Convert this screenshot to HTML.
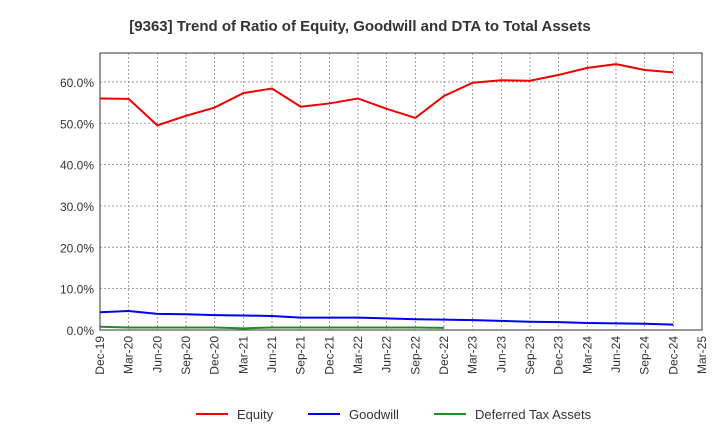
<!DOCTYPE html>
<html><head><meta charset="utf-8"><style>
body{margin:0;background:#fff;font-family:"Liberation Sans",sans-serif}
</style></head><body>
<svg id="chart" width="720" height="440" xmlns="http://www.w3.org/2000/svg" font-family="Liberation Sans, sans-serif">
<text x="360" y="31" text-anchor="middle" font-size="15" font-weight="bold" fill="#333">[9363]  Trend of Ratio of Equity, Goodwill and DTA to Total Assets</text>
<g id="grid"></g><g id="axes"></g><g id="series"></g>
<g font-size="13" fill="#333">
<line x1="196" y1="414" x2="228" y2="414" stroke="#e00" stroke-width="2"/><text x="237" y="419">Equity</text>
<line x1="308" y1="414" x2="340" y2="414" stroke="#00e" stroke-width="2"/><text x="349" y="419">Goodwill</text>
<line x1="434" y1="414" x2="466" y2="414" stroke="#228b22" stroke-width="2"/><text x="475" y="419">Deferred Tax Assets</text>
</g>
</svg>
<script>
const categories=["Dec-19","Mar-20","Jun-20","Sep-20","Dec-20","Mar-21","Jun-21","Sep-21","Dec-21","Mar-22","Jun-22","Sep-22","Dec-22","Mar-23","Jun-23","Sep-23","Dec-23","Mar-24","Jun-24","Sep-24","Dec-24","Mar-25"];
const equity=[56.0,55.9,49.5,51.8,53.8,57.3,58.4,54.0,54.8,56.0,53.5,51.3,56.6,59.8,60.4,60.3,61.7,63.4,64.3,62.9,62.3];
const goodwill=[4.3,4.6,3.9,3.8,3.6,3.5,3.4,3.0,3.0,3.0,2.8,2.6,2.5,2.4,2.2,2.0,1.9,1.7,1.6,1.5,1.3];
const dta=[0.8,0.6,0.6,0.6,0.6,0.4,0.6,0.6,0.6,0.6,0.6,0.6,0.5];
const yTicks=[0,10,20,30,40,50,60];
const L=100,R=702,T=53,B=330,YMAX=67;
const NS="http://www.w3.org/2000/svg";
const x=i=>L+i*(R-L)/(categories.length-1);
const y=v=>B-v*(B-T)/YMAX;
function mk(tag,attrs,parent){const e=document.createElementNS(NS,tag);for(const k in attrs)e.setAttribute(k,attrs[k]);document.getElementById(parent).appendChild(e);return e;}
yTicks.forEach(v=>{
 const g=mk("line",{x1:L,x2:R,y1:y(v),y2:y(v),stroke:"#888","stroke-dasharray":"2,2","stroke-width":0.8},"grid");
 
 
 const t=mk("text",{x:L-6,y:y(v)+5,"text-anchor":"end","font-size":"12",fill:"#333"},"axes");
 t.textContent=v.toFixed(1)+"%";
 
 
});
categories.forEach((c,i)=>{
 const g=mk("line",{x1:x(i),x2:x(i),y1:T,y2:B,stroke:"#888","stroke-dasharray":"2,2","stroke-width":0.8},"grid");
 
 
 const t=mk("text",{transform:`translate(${x(i)+4},${B+6}) rotate(-90)`,"text-anchor":"end","font-size":"12",fill:"#333"},"axes");
 t.textContent=c;
 
 
});
const fr=mk("rect",{x:L,y:T,width:R-L,height:B-T,fill:"none",stroke:"#333","stroke-width":1},"axes");


function line(arr,col,name){
 const p=mk("polyline",{points:arr.map((v,i)=>x(i)+","+y(v)).join(" "),fill:"none",stroke:col,"stroke-width":2},"series");
 
 
}
line(equity,"#e00","equity-line");
line(goodwill,"#00e","goodwill-line");
line(dta,"#228b22","dta-line");
</script>
</body></html>
